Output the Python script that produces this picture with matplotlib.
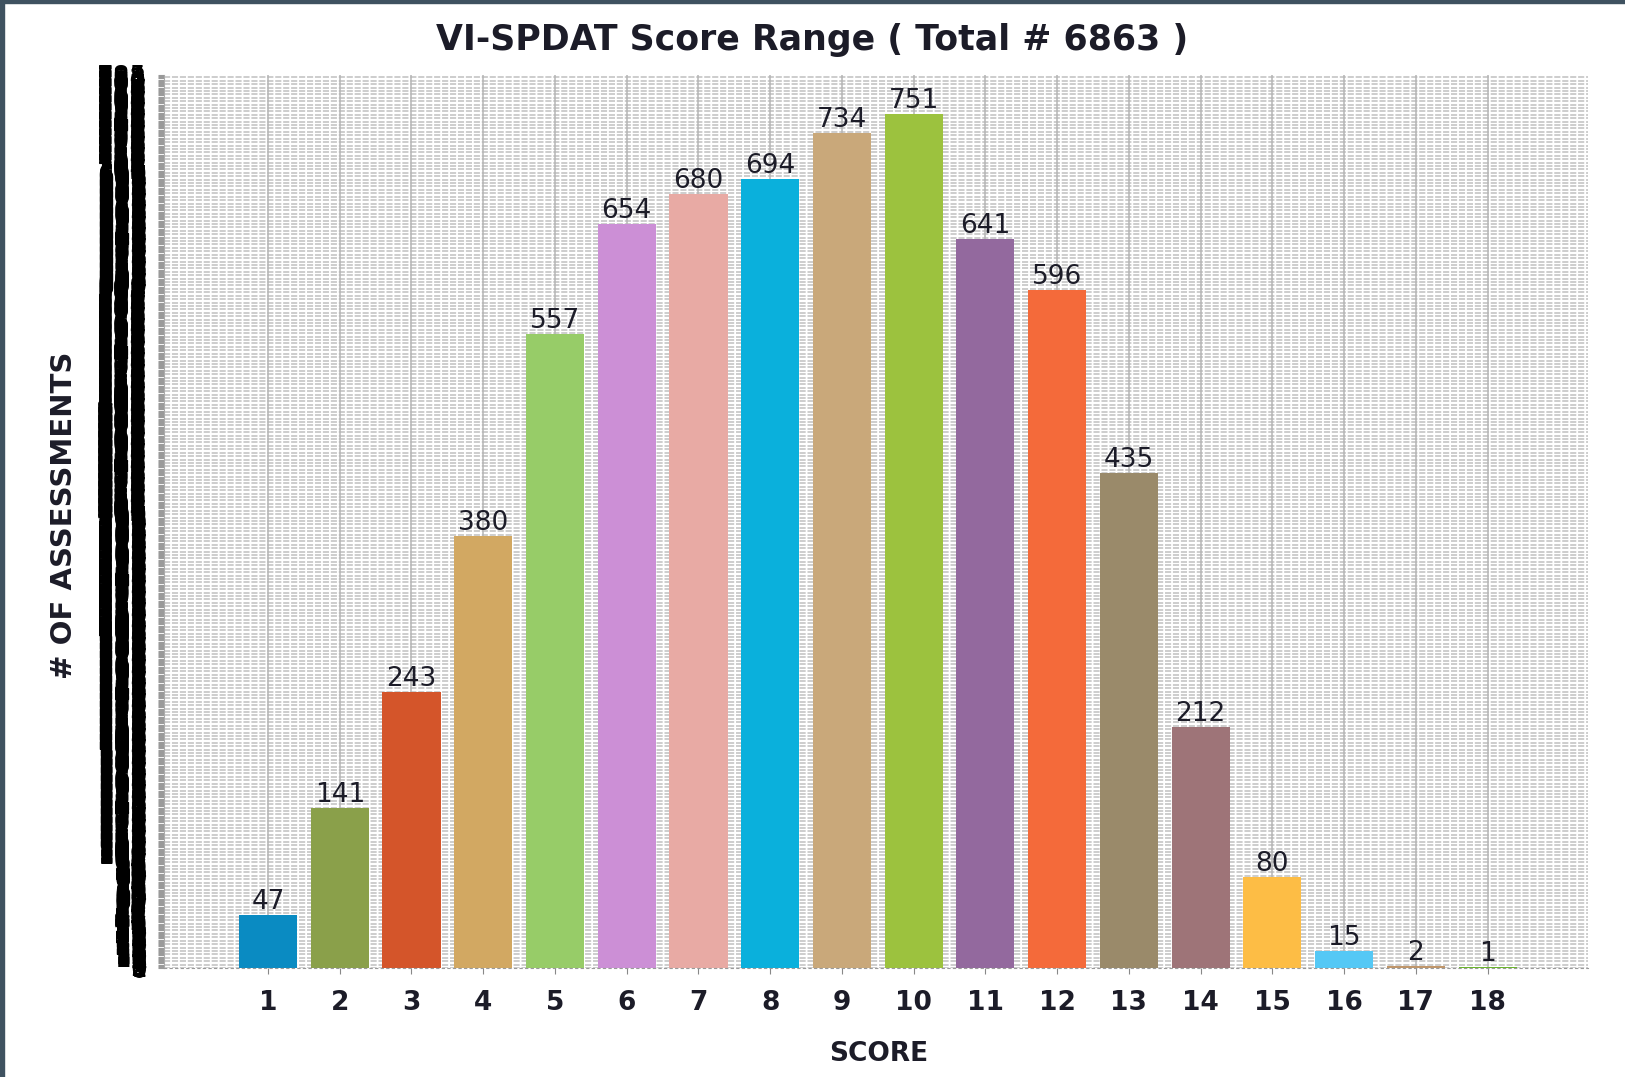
import matplotlib
matplotlib.use("Agg")
import matplotlib.pyplot as plt
from matplotlib.patches import Rectangle
import numpy as np

scores = list(range(1, 19))
counts = [47, 141, 243, 380, 557, 654, 680, 694, 734, 751, 641, 596, 435, 212, 80, 15, 2, 1]
colors = ["#0a8bc2", "#8aa04a", "#d4552a", "#d2a862", "#97cc68", "#cc8fd6",
          "#e8aaa4", "#0ab0dc", "#c9a87a", "#9cc23e", "#93699e", "#f46a3a",
          "#9a8a6a", "#9e7478", "#fdbd45", "#55c8f5", "#c0966a", "#6ab62a"]
title = "VI-SPDAT Score Range ( Total # 6863 )"
x_label = "SCORE"
y_label = "# OF ASSESSMENTS"
y_max = 785

W, H = 1625, 1077
fig = plt.figure(figsize=(W / 100, H / 100), dpi=100)
fig.patch.set_facecolor("white")
ax = fig.add_axes([164 / W, 1 - 968 / H, (1588 - 164) / W, (968 - 75) / H])

ax.set_xlim(-0.45, 19.4)
ax.set_ylim(0, y_max)

# dense dashed horizontal grid
for yv in np.arange(0, y_max + 1, 3):
    ax.axhline(yv, color="#c0c0c0", lw=1.1, dashes=(4, 1.2), zorder=0)
# vertical grid at category centres
for xv in scores:
    ax.axvline(xv, color="#b5b5b5", lw=1.1, zorder=0.5)

bars = ax.bar(scores, counts, width=0.81, color=colors, zorder=2)
for xv, v in zip(scores, counts):
    ax.annotate(str(v), (xv, v), xytext=(0, 0), textcoords="offset points",
                ha="center", va="bottom", fontsize=19, color="#1c1c28", zorder=3)

ax.set_xticks(scores)
ax.set_xticklabels([str(s) for s in scores], fontsize=19, fontweight="bold", color="#1c1c28")
ax.tick_params(axis="x", length=4, color="#888888", pad=12)

yt = np.arange(0, y_max + 1, 1)
ax.set_yticks(yt)
ax.set_yticklabels([str(v) for v in yt], fontsize=19, color="black")
ax.tick_params(axis="y", length=4, color="#999999", pad=8)

for s in ["top", "right"]:
    ax.spines[s].set_visible(False)
ax.spines["left"].set_color("#aaaaaa")
ax.spines["bottom"].set_color("#999999")
ax.spines["bottom"].set_linestyle((0, (2, 3)))

fig.text(0.5, 1 - 40 / H, title, ha="center", va="center", fontsize=25,
         fontweight="bold", color="#1c1c28")
fig.text(879 / W, 1 - 1054 / H, x_label, ha="center", va="center", fontsize=19,
         fontweight="bold", color="#1c1c28")
fig.text(64 / W, 1 - 515 / H, y_label, ha="center", va="center", fontsize=21,
         fontweight="bold", color="#1c1c28", rotation=90)

# dark frame at top and left edges
fig.patches.append(Rectangle((0, 1 - 3 / H), 1, 3 / H, transform=fig.transFigure,
                             color="#3f5260", zorder=10))
fig.patches.append(Rectangle((0, 0), 4 / W, 1, transform=fig.transFigure,
                             color="#3f5260", zorder=10))

fig.savefig("out.png", dpi=100)
